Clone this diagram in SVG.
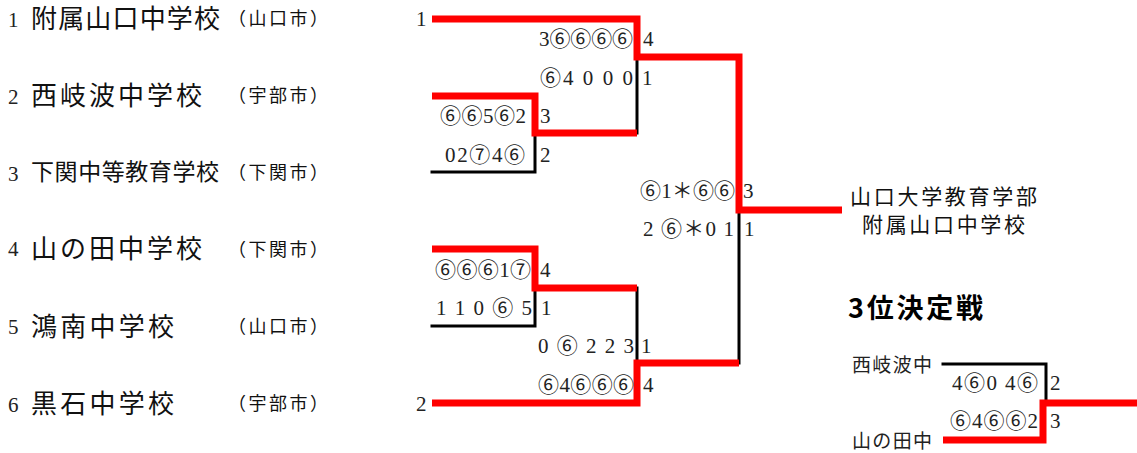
<svg xmlns="http://www.w3.org/2000/svg" width="1137" height="453" viewBox="0 0 1137 453">
<style>
.num{font-family:"Liberation Serif","Noto Sans CJK JP",serif;font-size:21px;fill:#222}
.sc{font-family:"Liberation Serif","Noto Sans CJK JP",serif;font-size:21px;fill:#222}
.name{font-family:"Noto Sans CJK JP","Liberation Sans",sans-serif;font-size:26px;fill:#111}
.city{font-family:"Noto Sans CJK JP","Liberation Sans",sans-serif;font-size:18px;fill:#111}
.win{font-family:"Noto Sans CJK JP","Liberation Sans",sans-serif;font-size:21px;fill:#111}
.ttl{font-family:"Noto Sans CJK JP","Liberation Sans",sans-serif;font-size:27px;font-weight:bold;fill:#000}
.sm{font-family:"Noto Sans CJK JP","Liberation Sans",sans-serif;font-size:19px;fill:#222}
.blk{fill:none;stroke:#000;stroke-width:3;stroke-linecap:square}
.red{fill:none;stroke:#f00;stroke-width:7;stroke-linejoin:miter;stroke-linecap:butt}
</style>
<rect width="1137" height="453" fill="#fff"/>

<g id="school-1">
<text class="num" x="8" y="27">1</text>
<text class="name" x="31" y="28" textLength="189" lengthAdjust="spacing">附属山口中学校</text>
<text class="city" x="228" y="25" textLength="100" lengthAdjust="spacing">（山口市）</text>
</g>
<g id="school-2">
<text class="num" x="8" y="104">2</text>
<text class="name" x="31" y="105" textLength="171" lengthAdjust="spacing">西岐波中学校</text>
<text class="city" x="228" y="102" textLength="100" lengthAdjust="spacing">（宇部市）</text>
</g>
<g id="school-3">
<text class="num" x="8" y="181">3</text>
<text class="name" x="31" y="180" style="font-size:23px" textLength="188" lengthAdjust="spacing">下関中等教育学校</text>
<text class="city" x="228" y="179" textLength="100" lengthAdjust="spacing">（下関市）</text>
</g>
<g id="school-4">
<text class="num" x="8" y="256">4</text>
<text class="name" x="31" y="258" textLength="171" lengthAdjust="spacing">山の田中学校</text>
<text class="city" x="228" y="256" textLength="100" lengthAdjust="spacing">（下関市）</text>
</g>
<g id="school-5">
<text class="num" x="8" y="334">5</text>
<text class="name" x="31" y="336" textLength="143" lengthAdjust="spacing">鴻南中学校</text>
<text class="city" x="228" y="333" textLength="100" lengthAdjust="spacing">（山口市）</text>
</g>
<g id="school-6">
<text class="num" x="8" y="412">6</text>
<text class="name" x="31" y="413" textLength="143" lengthAdjust="spacing">黒石中学校</text>
<text class="city" x="228" y="410" textLength="100" lengthAdjust="spacing">（宇部市）</text>
</g>

<g id="connectors">
<path class="blk" d="M432,172 H535 V133"/>
<path class="blk" d="M637,57 V133"/>
<path class="blk" d="M432,326 H535 V288"/>
<path class="blk" d="M637,288 V363"/>
<path class="blk" d="M739,210 V363"/>
<path class="red" d="M432,19 H637 V57 H739 V210 H842"/>
<path class="red" d="M432,96 H535 V133 H637"/>
<path class="red" d="M432,249 H535 V288 H637"/>
<path class="red" d="M432,403 H637 V363 H739"/>
<path class="blk" d="M943,364 H1046 V403"/>
<path class="red" d="M943,440 H1043 V403 H1137"/>
</g>

<g id="seeds">
<text class="num" x="416" y="26">1</text>
<text class="num" x="416" y="411">2</text>
</g>

<g id="scores">
<text class="sc" x="539" y="46" textLength="94" lengthAdjust="spacing">3⑥⑥⑥⑥</text>
<text class="sc" x="643" y="46">4</text>
<text class="sc" x="540" y="85" textLength="93" lengthAdjust="spacing">⑥4 0 0 0</text>
<text class="sc" x="642" y="85">1</text>
<text class="sc" x="440" y="123" textLength="86" lengthAdjust="spacing">⑥⑥5⑥2</text>
<text class="sc" x="540" y="123">3</text>
<text class="sc" x="445" y="162" textLength="80" lengthAdjust="spacing">02⑦4⑥</text>
<text class="sc" x="540" y="162">2</text>
<text class="sc" x="640" y="198" textLength="95" lengthAdjust="spacing">⑥1＊⑥⑥</text>
<text class="sc" x="743" y="198">3</text>
<text class="sc" x="643" y="236" textLength="91" lengthAdjust="spacing">2 ⑥＊0 1</text>
<text class="sc" x="744" y="236">1</text>
<text class="sc" x="435" y="277" textLength="96" lengthAdjust="spacing">⑥⑥⑥1⑦</text>
<text class="sc" x="540" y="277">4</text>
<text class="sc" x="436" y="315" textLength="96" lengthAdjust="spacing">1 1 0 ⑥ 5</text>
<text class="sc" x="541" y="315">1</text>
<text class="sc" x="538" y="353" textLength="96" lengthAdjust="spacing">0 ⑥ 2 2 3</text>
<text class="sc" x="641" y="353">1</text>
<text class="sc" x="538" y="392" textLength="96" lengthAdjust="spacing">⑥4⑥⑥⑥</text>
<text class="sc" x="643" y="392">4</text>
<text class="sc" x="952" y="390" textLength="86" lengthAdjust="spacing">4⑥0 4⑥</text>
<text class="sc" x="1050" y="390">2</text>
<text class="sc" x="950" y="428" textLength="88" lengthAdjust="spacing">⑥4⑥⑥2</text>
<text class="sc" x="1050" y="428">3</text>
</g>

<g id="winner">
<text class="win" x="850" y="204" textLength="187" lengthAdjust="spacing">山口大学教育学部</text>
<text class="win" x="862" y="232" textLength="163" lengthAdjust="spacing">附属山口中学校</text>
</g>

<g id="third-place">
<text class="ttl" x="848" y="318" textLength="135" lengthAdjust="spacing">3位決定戦</text>
<text class="sm" x="852" y="372" textLength="80" lengthAdjust="spacing">西岐波中</text>
<text class="sm" x="852" y="448" textLength="80" lengthAdjust="spacing">山の田中</text>
</g>
</svg>
